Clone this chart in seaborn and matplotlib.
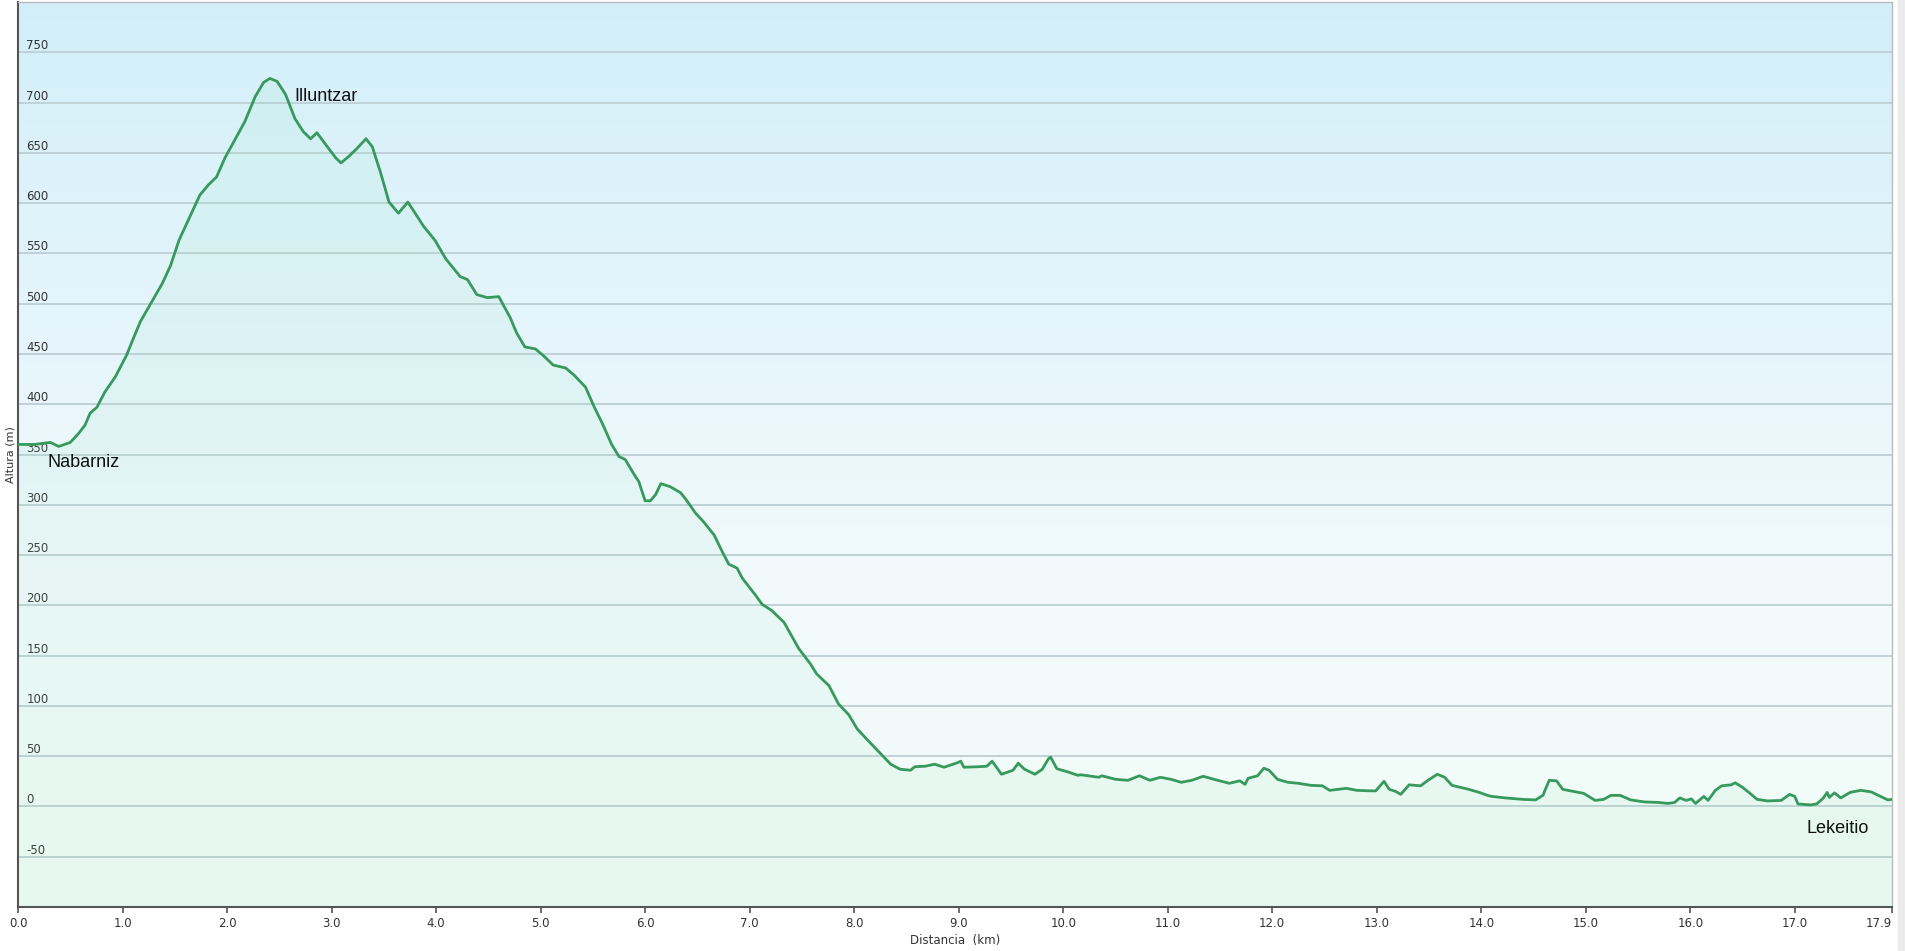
"""
Perfil de altura Nabarniz - Illuntzar - Lekeitio
"""

import numpy as np
import pandas as pd
import matplotlib
matplotlib.use("Agg")
import matplotlib.pyplot as plt
from matplotlib.colors import LinearSegmentedColormap
from matplotlib.patches import Rectangle
import seaborn as sns

dist_km = [0.00, 0.16, 0.31, 0.39, 0.50, 0.58, 0.64, 0.69, 0.755, 0.83, 0.93, 1.04, 1.09, 1.17, 1.28,
           1.38, 1.46, 1.54, 1.58, 1.66, 1.74, 1.82, 1.90, 1.98, 2.08, 2.17, 2.27, 2.35, 2.41, 2.48,
           2.56, 2.65, 2.73, 2.80, 2.86, 2.96, 3.04, 3.09, 3.16, 3.24, 3.33, 3.39, 3.47, 3.55, 3.64,
           3.73, 3.80, 3.88, 3.99, 4.09, 4.23, 4.30, 4.39, 4.49, 4.60, 4.71, 4.77, 4.85, 4.95, 5.03,
           5.12, 5.24, 5.32, 5.43, 5.51, 5.59, 5.68, 5.75, 5.81, 5.89, 5.94, 6.00, 6.05, 6.10, 6.15,
           6.24, 6.34, 6.40, 6.48, 6.56, 6.66, 6.74, 6.80, 6.88, 6.93, 7.05, 7.12, 7.21, 7.33, 7.47,
           7.58, 7.64, 7.76, 7.85, 7.95, 8.03, 8.12, 8.23, 8.35, 8.44, 8.54, 8.58, 8.68, 8.77, 8.86,
           8.99, 9.02, 9.05, 9.19, 9.27, 9.32, 9.41, 9.52, 9.57, 9.63, 9.73, 9.80, 9.86, 9.88, 9.94,
           10.04, 10.14, 10.17, 10.34, 10.37, 10.50, 10.62, 10.73, 10.83, 10.93, 11.03, 11.13, 11.23,
           11.34, 11.46, 11.59, 11.69, 11.74, 11.77, 11.86, 11.92, 11.97, 12.05, 12.15, 12.25, 12.37,
           12.48, 12.55, 12.71, 12.81, 12.94, 12.99, 13.07, 13.12, 13.18, 13.23, 13.31, 13.42, 13.49,
           13.58, 13.65, 13.72, 13.80, 13.88, 13.98, 14.06, 14.10, 14.23, 14.40, 14.52, 14.59, 14.65,
           14.72, 14.78, 14.88, 14.98, 15.09, 15.17, 15.24, 15.33, 15.43, 15.56, 15.69, 15.79, 15.85,
           15.90, 15.96, 16.01, 16.05, 16.13, 16.17, 16.24, 16.30, 16.39, 16.43, 16.50, 16.56, 16.64,
           16.74, 16.87, 16.95, 17.00, 17.03, 17.15, 17.21, 17.27, 17.31, 17.33, 17.38, 17.44, 17.53,
           17.63, 17.73, 17.82, 17.89, 17.93]

altura_m = [360, 360, 362, 358, 362, 371, 379, 391, 397, 412, 427, 449, 462, 482, 502,
            520, 538, 563, 572, 590, 608, 618, 626, 645, 664, 681, 706, 720, 724, 721,
            708, 684, 671, 664, 670, 656, 645, 640, 646, 654, 664, 656, 630, 601, 590,
            601, 590, 577, 563, 545, 527, 524, 509, 506, 507, 486, 471, 457, 455, 448,
            439, 436, 429, 417, 398, 381, 360, 348, 345, 331, 323, 304, 304, 310, 321,
            318, 312, 304, 292, 283, 270, 253, 241, 237, 227, 211, 201, 195, 183, 157,
            142, 132, 120, 102, 91, 77, 67, 55, 42, 37, 36, 39.5, 40, 42, 39,
            43.5, 45, 39, 39.5, 40, 45, 32, 36, 43, 37, 32, 37, 47.5, 49, 37.5,
            34.5, 31, 31.5, 29, 30.5, 27, 26, 30.5, 26, 29, 27, 24, 26,
            30, 26.5, 23, 25.5, 22, 28, 30.5, 38, 36, 27, 24, 23, 21,
            20.5, 16, 18, 16, 15.5, 15.5, 25, 17, 15, 12, 21.5, 20.5, 26,
            32, 29, 21, 19, 17, 14, 11, 10, 8.5, 7, 6.5, 11, 26,
            25.5, 17, 15, 13, 6, 7, 11, 11, 6.5, 4.5, 4, 3, 4,
            8.5, 6, 7.5, 3, 10, 6, 16, 20.5, 21.5, 23.5, 19, 14, 7,
            5.5, 6, 12, 10, 2.5, 1.5, 2.5, 8, 14, 9, 13.5, 8.5, 14,
            16, 14.5, 10, 6.5, 7]

# Etiquetas de los puntos de paso
puntos = ["Nabarniz", "Illuntzar", "Lekeitio"]
puntos_km = [0.28, 2.64, 17.11]
puntos_m = [342, 706, -22]

y_ticks = [-50, 0, 50, 100, 150, 200, 250, 300, 350, 400, 450, 500, 550, 600, 650, 700, 750]
x_ticks = [0, 1, 2, 3, 4, 5, 6, 7, 8, 9, 10, 11, 12, 13, 14, 15, 16, 17, 17.93]

X_MAX = 17.93
Y_MIN, Y_MAX = -100, 800


def main():
    df = pd.DataFrame({"km": dist_km, "m": altura_m})

    sns.set_theme(style="white")
    plt.rcParams["font.family"] = ["DejaVu Sans"]

    fig = plt.figure(figsize=(19.05, 9.51), dpi=100)
    ax = fig.add_axes([18 / 1905, 44 / 951, (1892 - 18) / 1905, (907 - 2) / 951])

    # franja gris a la derecha (como el marco original)
    fig.patches.append(Rectangle((1898 / 1905, 0), 7 / 1905, 1, transform=fig.transFigure,
                                 color="#ececec", zorder=-1))

    # fondo degradado azul -> menta
    bg = LinearSegmentedColormap.from_list(
        "bg", ["#f0fcf6", "#f3fafc", "#e4f5fb", "#d2eff9"])
    grad = np.linspace(0, 1, 256).reshape(-1, 1)
    ax.imshow(grad, cmap=bg, aspect="auto", origin="lower",
              extent=[0, X_MAX, Y_MIN, Y_MAX], zorder=0)

    # rejilla horizontal
    for v in y_ticks:
        ax.axhline(v, color="#bccfd4", lw=1.3, zorder=1)

    ax.fill_between(df["km"], df["m"], Y_MIN, color="#8fe0b8", alpha=0.10,
                    lw=0, zorder=2)
    sns.lineplot(data=df, x="km", y="m", ax=ax, color="#379a5c", lw=2.0,
                 zorder=3)

    ax.set_xlim(0, X_MAX)
    ax.set_ylim(Y_MIN, Y_MAX)

    ax.set_yticks(y_ticks)
    ax.set_yticklabels([str(v) for v in y_ticks])
    ax.tick_params(axis="y", length=0, pad=-6, labelsize=8.5, labelcolor="#333333")
    for lab in ax.get_yticklabels():
        lab.set_horizontalalignment("left")
        lab.set_verticalalignment("bottom")

    ax.set_xticks(x_ticks)
    ax.set_xticklabels([f"{v:.1f}" for v in x_ticks])
    ax.tick_params(axis="x", length=4, width=1.2, color="#555555", pad=3,
                   labelsize=8.5, labelcolor="#333333", bottom=True)
    # el ultimo valor (17.9) queda alineado a la derecha, dentro del marco
    ax.get_xticklabels()[-1].set_horizontalalignment("right")

    ax.set_xlabel("Distancia  (km)", fontsize=8.5, color="#333333", labelpad=3)
    ax.set_ylabel("Altura (m)", fontsize=8, color="#333333", labelpad=2)

    for side in ["left", "bottom"]:
        ax.spines[side].set_color("#555555")
        ax.spines[side].set_linewidth(1.5)
    for side in ["top", "right"]:
        ax.spines[side].set_color("#bbbbbb")
        ax.spines[side].set_linewidth(1.0)

    for txt, km, m in zip(puntos, puntos_km, puntos_m):
        ax.text(km, m, txt, fontsize=13, family="Liberation Sans",
                color="#111111", ha="left", va="center", zorder=4)

    fig.savefig("out.png", dpi=100)
    plt.close(fig)


if __name__ == "__main__":
    main()
